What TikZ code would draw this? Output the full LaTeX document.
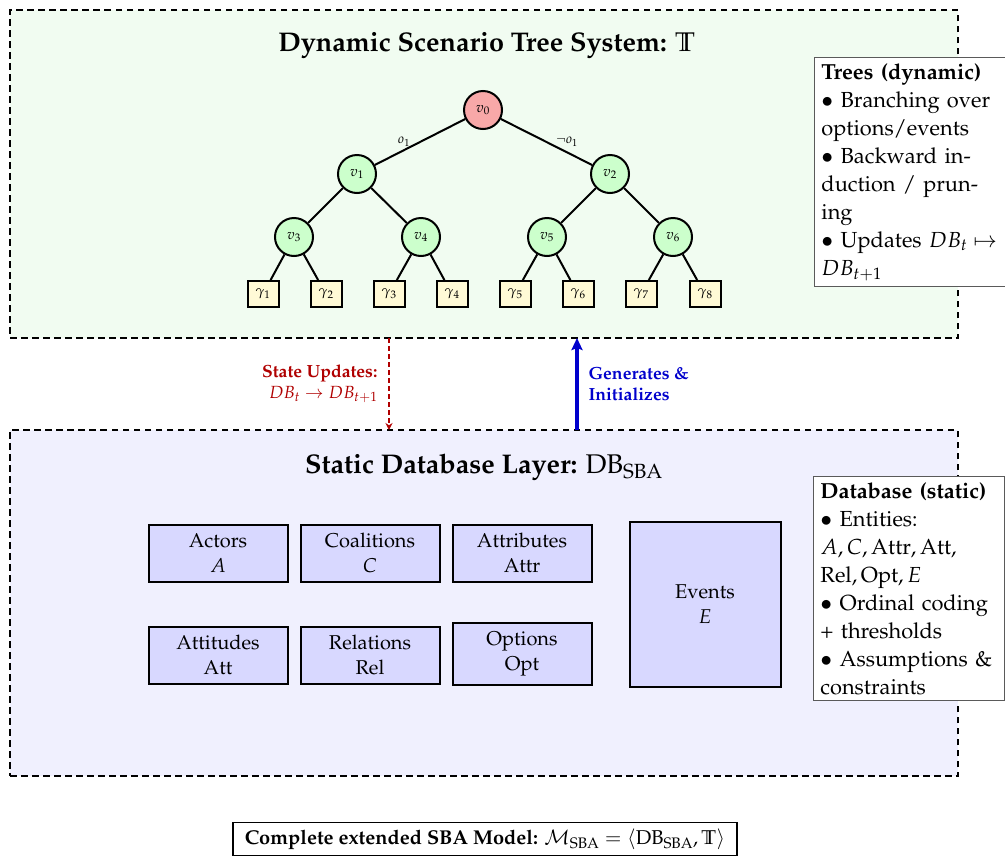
\documentclass[tikz,border=0pt]{standalone}
\usepackage[T1]{fontenc}
\usepackage{amssymb}
\usepackage{mathpazo}
\usetikzlibrary{arrows.meta}
\definecolor{topfill}{RGB}{241,252,241}
\definecolor{botfill}{RGB}{240,240,254}
\definecolor{dbfill}{RGB}{216,216,255}
\definecolor{rootfill}{RGB}{248,168,168}
\definecolor{innerfill}{RGB}{204,255,204}
\definecolor{leaffill}{RGB}{255,250,214}
\definecolor{upred}{RGB}{176,0,0}
\definecolor{genblue}{RGB}{0,0,204}
\definecolor{notegray}{RGB}{90,90,90}
\tikzset{
  layer/.style={draw=black, line width=2.5pt, dash pattern=on 6.5pt off 4.5pt, inner sep=0pt},
  treenode/.style={circle, draw=black, line width=2pt, minimum size=38pt, inner sep=0pt, font=\fontsize{14.5}{16}\selectfont},
  leafnode/.style={rectangle, draw=black, line width=2pt, fill=leaffill, minimum width=31pt, minimum height=26pt, inner sep=0pt, font=\fontsize{14.5}{16}\selectfont},
  treeedge/.style={draw=black, line width=2pt},
  edgelabel/.style={font=\fontsize{13.5}{15}\selectfont},
  dbbox/.style={rectangle, draw=black, line width=2pt, fill=dbfill, minimum width=139pt, minimum height=57pt, align=center, inner sep=0pt, font=\fontsize{20}{25}\selectfont},
  notebox/.style={draw=notegray, line width=0.9pt, fill=white, anchor=north west, text width=177pt, inner xsep=7pt, inner ysep=6pt, align=left, font=\fontsize{21.8}{28}\selectfont},
  titletext/.style={font=\fontsize{27}{32}\selectfont},
  arrowlabel/.style={font=\fontsize{17.6}{21}\selectfont},
}
\begin{document}
\begin{tikzpicture}[x=1pt,y=-1pt]
\useasboundingbox (0,0) rectangle (1005,860);
% layers
\node[layer, fill=topfill, minimum width=948pt, minimum height=328pt] (top) at (484,174) {};
\node[layer, fill=botfill, minimum width=948pt, minimum height=346pt] (bot) at (484,603) {};
% titles
\node[titletext] (toptitle) at (487,46) {\textbf{Dynamic Scenario Tree System:} $\mathbb{T}$};
\node[titletext] (bottitle) at (484,467) {\textbf{Static Database Layer:} $\mathrm{DB}_{\mathrm{SBA}}$};
% tree
\node[treenode, fill=rootfill] (v0) at (483,110) {$v_0$};
\node[treenode, fill=innerfill] (v1) at (357,174) {$v_1$};
\node[treenode, fill=innerfill] (v2) at (610,174) {$v_2$};
\node[treenode, fill=innerfill] (v3) at (294,237) {$v_3$};
\node[treenode, fill=innerfill] (v4) at (421,237) {$v_4$};
\node[treenode, fill=innerfill] (v5) at (547,237) {$v_5$};
\node[treenode, fill=innerfill] (v6) at (673,237) {$v_6$};
\node[leafnode] (g1) at (263,294) {$\gamma_1$};
\node[leafnode] (g2) at (326,294) {$\gamma_2$};
\node[leafnode] (g3) at (389,294) {$\gamma_3$};
\node[leafnode] (g4) at (452,294) {$\gamma_4$};
\node[leafnode] (g5) at (515,294) {$\gamma_5$};
\node[leafnode] (g6) at (578,294) {$\gamma_6$};
\node[leafnode] (g7) at (641,294) {$\gamma_7$};
\node[leafnode] (g8) at (705,294) {$\gamma_8$};
\draw[treeedge] (v0) -- (v1);
\draw[treeedge] (v0) -- (v2);
\draw[treeedge] (v1) -- (v3);
\draw[treeedge] (v1) -- (v4);
\draw[treeedge] (v2) -- (v5);
\draw[treeedge] (v2) -- (v6);
\draw[treeedge] (v3) -- (g1);
\draw[treeedge] (v3) -- (g2);
\draw[treeedge] (v4) -- (g3);
\draw[treeedge] (v4) -- (g4);
\draw[treeedge] (v5) -- (g5);
\draw[treeedge] (v5) -- (g6);
\draw[treeedge] (v6) -- (g7);
\draw[treeedge] (v6) -- (g8);
\node[edgelabel] (lo1) at (404,142) {$o_1$};
\node[edgelabel] (lno1) at (567,142) {$\neg o_1$};
% notes
\node[notebox] (treenote) at (814,57) {\textbf{Trees (dynamic)}\\
$\bullet$ Branching over\\
options/events\\
$\bullet$ Backward in-\\
duction / prun-\\
ing\\
$\bullet$ Updates $DB_t \mapsto$\\
$DB_{t+1}$};
\node[notebox] (dbnote) at (813,476) {\textbf{Database (static)}\\
$\bullet$ Entities:\\
$A, C, \mathrm{Attr}, \mathrm{Att},$\\
$\mathrm{Rel}, \mathrm{Opt}, E$\\
$\bullet$ Ordinal coding\\
+ thresholds\\
$\bullet$ Assumptions \&\\
constraints};
% database boxes
\node[dbbox] (actors) at (218,553) {Actors\\ $A$};
\node[dbbox] (coal) at (370,553) {Coalitions\\ $C$};
\node[dbbox] (attr) at (522,553) {Attributes\\ Attr};
\node[dbbox] (atti) at (218,655) {Attitudes\\ Att};
\node[dbbox] (rel) at (370,655) {Relations\\ Rel};
\node[dbbox, minimum height=62pt] (opt) at (522,654) {Options\\ Opt};
\node[dbbox, minimum width=151pt, minimum height=165pt] (events) at (705,604) {Events\\ $E$};
% arrows between layers
\coordinate (redtop) at (389,338);
\coordinate (redbot) at (389,430);
\coordinate (bluebot) at (577,430);
\coordinate (bluetop) at (577,338);
\draw[upred, line width=1.6pt, dash pattern=on 5pt off 3pt, -{Stealth[length=7pt,width=7pt]}] (redtop) -- (redbot);
\draw[genblue, line width=3.2pt, -{Stealth[length=12pt,width=11pt,inset=2pt]}] (bluebot) -- (bluetop);
\node[arrowlabel, align=right, anchor=east, text=upred] (redlabel) at (381,384) {\textbf{State Updates:}\\ $DB_t \rightarrow DB_{t+1}$};
\node[arrowlabel, align=left, anchor=west, text=genblue] (bluelabel) at (585,384) {\textbf{Generates \&}\\ \textbf{Initializes}};
% model box
\node[draw=black, line width=1.4pt, fill=white, minimum width=504pt, minimum height=33pt, inner sep=3pt, font=\fontsize{20}{24}\selectfont] (model) at (485,839) {\textbf{Complete extended SBA Model:} $\mathcal{M}_{\mathrm{SBA}} = \langle \mathrm{DB}_{\mathrm{SBA}}, \mathbb{T}\rangle$};
\end{tikzpicture}
\end{document}
